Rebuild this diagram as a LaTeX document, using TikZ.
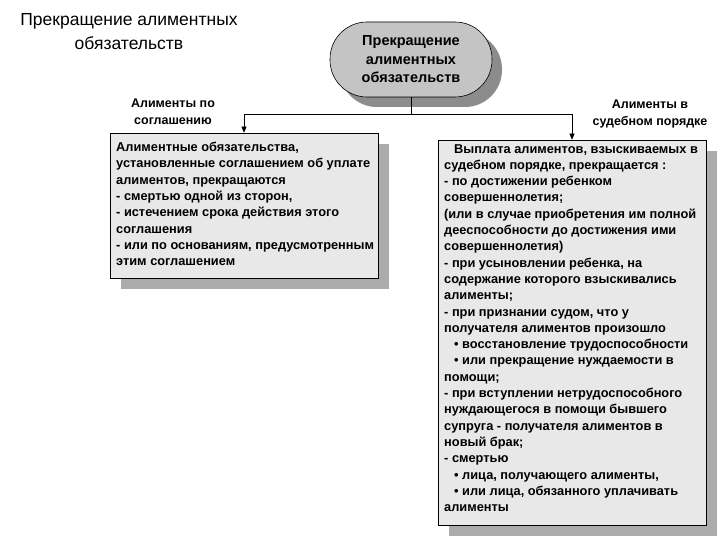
\documentclass[tikz,border=0pt]{standalone}
\usepackage{fontspec}
\setmainfont{Liberation Sans}
\usetikzlibrary{shadows,arrows.meta}
\definecolor{boxfill}{HTML}{E8E8E8}
\definecolor{boxshadow}{HTML}{ABABAB}
\definecolor{ovalfill}{HTML}{C4C4C4}
\definecolor{ovalshadow}{HTML}{8C8C8C}
\tikzset{
  txt/.style={font=\bfseries\fontsize{12.8}{16.3}\selectfont, align=left, inner sep=0pt, anchor=north west},
  lbl/.style={font=\bfseries\fontsize{12.5}{17}\selectfont, align=center, inner sep=0pt},
  panel/.style={draw=black, line width=0.6pt, fill=boxfill, general shadow={fill=boxshadow, shadow xshift=11pt, shadow yshift=-11pt}},
  oval/.style={draw=black, line width=0.6pt, fill=ovalfill, rounded corners=37pt, minimum width=162pt, minimum height=75pt, align=center, font=\bfseries\fontsize{14.5}{18.5}\selectfont, inner sep=0pt, general shadow={fill=ovalshadow, shadow xshift=10pt, shadow yshift=-10pt, rounded corners=37pt}},
  conn/.style={line width=0.6pt, -{Triangle[length=6pt,width=5pt]}}
}
\begin{document}
\begin{tikzpicture}[x=1pt,y=-1pt]
\useasboundingbox (0,0) rectangle (720,540);
\node[font=\fontsize{17.5}{24}\selectfont, align=center, inner sep=0pt] (title) at (129,32) {Прекращение алиментных\\обязательств};
\node[oval] (top) at (411,59.5) {Прекращение\\алиментных\\обязательств};
\node[panel, minimum width=268pt, minimum height=145pt, inner sep=0pt] (lbox) at (244,205.5) {};
\node[panel, minimum width=268pt, minimum height=385pt, inner sep=0pt] (rbox) at (572,332.5) {};
\draw[conn] (top.south) -- ++(0,17) -| (lbox.north);
\draw[conn] (top.south) -- ++(0,17) -| (rbox.north);
\node[lbl] (l1) at (173,112) {Алименты по\\соглашению};
\node[lbl] (l2) at (650,114) {Алименты в\\судебном порядке};
\node[txt] (lt) at (116,142) {Алиментные обязательства,\\установленные соглашением об уплате\\алиментов, прекращаются\\- смертью одной из сторон,\\- истечением срока действия этого\\соглашения\\- или по основаниям, предусмотренным\\этим соглашением};
\node[txt] (rt) at (444,144) {\hspace*{10pt}Выплата алиментов, взыскиваемых в\\судебном порядке, прекращается :\\- по достижении ребенком\\совершеннолетия;\\(или в случае приобретения им полной\\дееспособности до достижения ими\\совершеннолетия)\\- при усыновлении ребенка, на\\содержание которого взыскивались\\алименты;\\- при признании судом, что у\\получателя алиментов произошло\\\hspace*{10pt}• восстановление трудоспособности\\\hspace*{10pt}• или прекращение нуждаемости в\\помощи;\\- при вступлении нетрудоспособного\\нуждающегося в помощи бывшего\\супруга - получателя алиментов в\\новый брак;\\- смертью\\\hspace*{10pt}• лица, получающего алименты,\\\hspace*{10pt}• или лица, обязанного уплачивать\\алименты};
\end{tikzpicture}
\end{document}
